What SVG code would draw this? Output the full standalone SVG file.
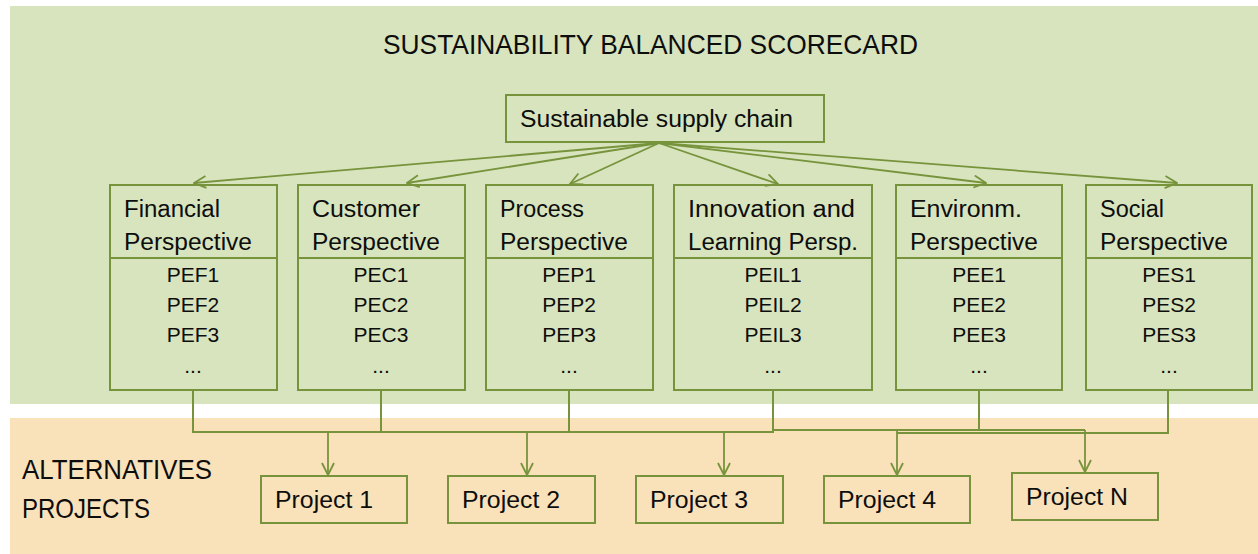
<svg xmlns="http://www.w3.org/2000/svg" width="1258" height="554" viewBox="0 0 1258 554">
<defs>
<style>
.t{font-family:"Liberation Sans",Arial,sans-serif;fill:#0d0d0d}
.h{font-size:23px}
.c{font-size:21px;text-anchor:middle}
.box{fill:none;stroke:#77933C;stroke-width:2}
.ln{fill:none;stroke:#77933C;stroke-width:2}
.ar{fill:none;stroke:#77933C;stroke-width:1.8;marker-end:url(#ah)}
</style>
<marker id="ah" viewBox="0 0 14 14" refX="13" refY="7" markerWidth="14" markerHeight="14" markerUnits="userSpaceOnUse" orient="auto">
<path d="M1,1 L13,7 L1,13" fill="none" stroke="#77933C" stroke-width="1.8"/>
</marker>
</defs>
<rect x="0" y="0" width="1258" height="554" fill="#ffffff"/>
<rect id="bsc-bg" x="10" y="6" width="1248" height="398" fill="#D7E4BD"/>
<rect id="alt-bg" x="10" y="418" width="1248" height="136" fill="#F9E1BA"/>
<text class="t" x="383" y="54" font-size="28" textLength="535" lengthAdjust="spacingAndGlyphs">SUSTAINABILITY BALANCED SCORECARD</text>
<text class="t" x="22" y="479" font-size="28" textLength="190" lengthAdjust="spacingAndGlyphs">ALTERNATIVES</text>
<text class="t" x="22" y="518" font-size="28" textLength="128" lengthAdjust="spacingAndGlyphs">PROJECTS</text>

<g id="connectors">
<line class="ar" x1="659" y1="143" x2="194" y2="183"/>
<line class="ar" x1="659" y1="143" x2="407" y2="183"/>
<line class="ar" x1="659" y1="143" x2="570" y2="184"/>
<line class="ar" x1="659" y1="143" x2="778" y2="184"/>
<line class="ar" x1="659" y1="143" x2="986" y2="183"/>
<line class="ar" x1="659" y1="143" x2="1177" y2="183"/>
<polyline class="ln" points="193,390 193,432 773,432"/>
<line class="ln" x1="381" y1="390" x2="381" y2="432"/>
<line class="ln" x1="569" y1="390" x2="569" y2="432"/>
<line class="ln" x1="773" y1="390" x2="773" y2="433"/>
<line class="ln" x1="773" y1="430" x2="1085" y2="430"/>
<line class="ln" x1="979" y1="390" x2="979" y2="430"/>
<polyline class="ln" points="1168,390 1168,433 897,433"/>
<line class="ar" x1="328" y1="432" x2="328" y2="475"/>
<line class="ar" x1="527" y1="432" x2="527" y2="475"/>
<line class="ar" x1="724" y1="432" x2="724" y2="475"/>
<line class="ar" x1="897" y1="430" x2="897" y2="475"/>
<line class="ar" x1="1085" y1="430" x2="1085" y2="472"/>
</g>

<g id="supply-chain">
<rect class="box" x="506" y="95" width="318" height="47"/>
<text class="t h" x="520" y="127" textLength="273" lengthAdjust="spacingAndGlyphs">Sustainable supply chain</text>
</g>

<g id="financial">
<rect class="box" x="110" y="185" width="167" height="205"/>
<line class="box" x1="110" y1="258" x2="277" y2="258"/>
<text class="t h" x="124" y="217" textLength="96" lengthAdjust="spacingAndGlyphs">Financial</text>
<text class="t h" x="124" y="250" textLength="128" lengthAdjust="spacingAndGlyphs">Perspective</text>
<text class="t c" x="193" y="282">PEF1</text>
<text class="t c" x="193" y="312">PEF2</text>
<text class="t c" x="193" y="342">PEF3</text>
<text class="t c" x="193" y="373">...</text>
</g>

<g id="customer">
<rect class="box" x="298" y="185" width="167" height="205"/>
<line class="box" x1="298" y1="258" x2="465" y2="258"/>
<text class="t h" x="312" y="217" textLength="108" lengthAdjust="spacingAndGlyphs">Customer</text>
<text class="t h" x="312" y="250" textLength="128" lengthAdjust="spacingAndGlyphs">Perspective</text>
<text class="t c" x="381" y="282">PEC1</text>
<text class="t c" x="381" y="312">PEC2</text>
<text class="t c" x="381" y="342">PEC3</text>
<text class="t c" x="381" y="373">...</text>
</g>

<g id="process">
<rect class="box" x="486" y="185" width="167" height="205"/>
<line class="box" x1="486" y1="258" x2="653" y2="258"/>
<text class="t h" x="500" y="217" textLength="84" lengthAdjust="spacingAndGlyphs">Process</text>
<text class="t h" x="500" y="250" textLength="128" lengthAdjust="spacingAndGlyphs">Perspective</text>
<text class="t c" x="569" y="282">PEP1</text>
<text class="t c" x="569" y="312">PEP2</text>
<text class="t c" x="569" y="342">PEP3</text>
<text class="t c" x="569" y="373">...</text>
</g>

<g id="innovation">
<rect class="box" x="674" y="185" width="198" height="205"/>
<line class="box" x1="674" y1="258" x2="872" y2="258"/>
<text class="t h" x="688" y="217" textLength="167" lengthAdjust="spacingAndGlyphs">Innovation and</text>
<text class="t h" x="688" y="250" textLength="170" lengthAdjust="spacingAndGlyphs">Learning Persp.</text>
<text class="t c" x="773" y="282">PEIL1</text>
<text class="t c" x="773" y="312">PEIL2</text>
<text class="t c" x="773" y="342">PEIL3</text>
<text class="t c" x="773" y="373">...</text>
</g>

<g id="environmental">
<rect class="box" x="896" y="185" width="166" height="205"/>
<line class="box" x1="896" y1="258" x2="1062" y2="258"/>
<text class="t h" x="910" y="217" textLength="112" lengthAdjust="spacingAndGlyphs">Environm.</text>
<text class="t h" x="910" y="250" textLength="128" lengthAdjust="spacingAndGlyphs">Perspective</text>
<text class="t c" x="979" y="282">PEE1</text>
<text class="t c" x="979" y="312">PEE2</text>
<text class="t c" x="979" y="342">PEE3</text>
<text class="t c" x="979" y="373">...</text>
</g>

<g id="social">
<rect class="box" x="1086" y="185" width="166" height="205"/>
<line class="box" x1="1086" y1="258" x2="1252" y2="258"/>
<text class="t h" x="1100" y="217" textLength="64" lengthAdjust="spacingAndGlyphs">Social</text>
<text class="t h" x="1100" y="250" textLength="128" lengthAdjust="spacingAndGlyphs">Perspective</text>
<text class="t c" x="1169" y="282">PES1</text>
<text class="t c" x="1169" y="312">PES2</text>
<text class="t c" x="1169" y="342">PES3</text>
<text class="t c" x="1169" y="373">...</text>
</g>

<g id="project-1">
<rect class="box" x="261" y="476" width="146" height="47"/>
<text class="t h" x="275" y="508" textLength="98" lengthAdjust="spacingAndGlyphs">Project 1</text>
</g>
<g id="project-2">
<rect class="box" x="448" y="476" width="147" height="47"/>
<text class="t h" x="462" y="508" textLength="98" lengthAdjust="spacingAndGlyphs">Project 2</text>
</g>
<g id="project-3">
<rect class="box" x="636" y="476" width="147" height="47"/>
<text class="t h" x="650" y="508" textLength="98" lengthAdjust="spacingAndGlyphs">Project 3</text>
</g>
<g id="project-4">
<rect class="box" x="824" y="476" width="146" height="47"/>
<text class="t h" x="838" y="508" textLength="98" lengthAdjust="spacingAndGlyphs">Project 4</text>
</g>
<g id="project-n">
<rect class="box" x="1012" y="473" width="146" height="47"/>
<text class="t h" x="1026" y="505" textLength="102" lengthAdjust="spacingAndGlyphs">Project N</text>
</g>
</svg>
